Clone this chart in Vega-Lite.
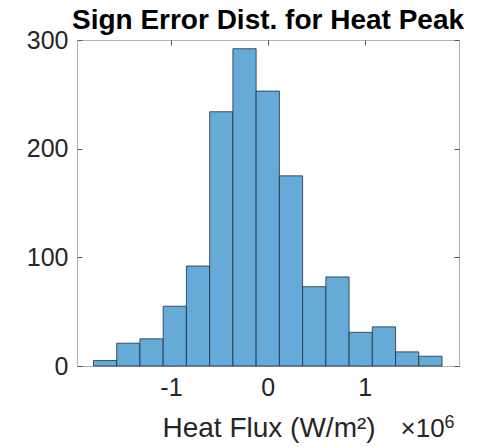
{
  "$schema": "https://vega.github.io/schema/vega-lite/v6.json",
  "autosize": {"type": "none"},
  "padding": {"left": 77, "top": 40, "right": 38, "bottom": 81},
  "width": 382,
  "height": 326,
  "background": "white",
  "title": {
    "text": "Sign Error Dist. for Heat Peak",
    "font": "Liberation Sans",
    "fontSize": 28,
    "fontWeight": "bold",
    "color": "#000000",
    "anchor": "middle",
    "offset": -7
  },
  "config": {
    "view": {"stroke": "#b0b0b0", "strokeWidth": 1},
    "axis": {
      "grid": false,
      "domain": false,
      "tickColor": "#555555",
      "tickSize": -5,
      "tickWidth": 1,
      "labelFont": "Liberation Sans",
      "labelFontSize": 25,
      "labelColor": "#262626",
      "titleFont": "Liberation Sans",
      "titleFontSize": 28,
      "titleFontWeight": "normal",
      "titleColor": "#262626"
    }
  },
  "data": {
    "values": [
      {"lo": -1800000, "hi": -1560000, "count": 5},
      {"lo": -1560000, "hi": -1320000, "count": 21},
      {"lo": -1320000, "hi": -1080000, "count": 25},
      {"lo": -1080000, "hi": -840000, "count": 55},
      {"lo": -840000, "hi": -600000, "count": 92},
      {"lo": -600000, "hi": -360000, "count": 234},
      {"lo": -360000, "hi": -120000, "count": 292},
      {"lo": -120000, "hi": 120000, "count": 253},
      {"lo": 120000, "hi": 360000, "count": 175},
      {"lo": 360000, "hi": 600000, "count": 73},
      {"lo": 600000, "hi": 840000, "count": 82},
      {"lo": 840000, "hi": 1080000, "count": 31},
      {"lo": 1080000, "hi": 1320000, "count": 36},
      {"lo": 1320000, "hi": 1560000, "count": 13},
      {"lo": 1560000, "hi": 1800000, "count": 9}
    ]
  },
  "resolve": {"axis": {"x": "independent", "y": "independent"}},
  "layer": [
    {
      "mark": {"type": "bar", "color": "#66AAD7", "stroke": "#1f2f3f", "strokeWidth": 0.8},
      "encoding": {
        "x": {
          "field": "lo",
          "type": "quantitative",
          "scale": {"domain": [-1970000, 1975000], "nice": false, "zero": false},
          "axis": {
            "orient": "bottom",
            "values": [-1000000, 0, 1000000],
            "labelExpr": "(datum.value / 1000000) + ''",
            "labelPadding": 14,
            "title": "Heat Flux (W/m²)",
            "titleAnchor": "start",
            "titleAlign": "left",
            "titleBaseline": "alphabetic",
            "titleX": 85,
            "titleY": 70
          }
        },
        "x2": {"field": "hi"},
        "y": {
          "field": "count",
          "type": "quantitative",
          "scale": {"domain": [0, 300], "nice": false},
          "axis": {
            "orient": "left",
            "values": [0, 100, 200, 300],
            "labelPadding": 14,
            "title": null
          }
        },
        "y2": {"datum": 0}
      }
    },
    {
      "mark": {"type": "point", "opacity": 0},
      "encoding": {
        "x": {
          "field": "lo",
          "type": "quantitative",
          "scale": {"domain": [-1970000, 1975000], "nice": false, "zero": false},
          "axis": {"orient": "top", "values": [-1000000, 0, 1000000], "labels": false, "title": null}
        },
        "y": {
          "field": "count",
          "type": "quantitative",
          "scale": {"domain": [0, 300], "nice": false},
          "axis": {"orient": "right", "values": [0, 100, 200, 300], "labels": false, "title": null}
        }
      }
    },
    {
      "mark": {"type": "point", "opacity": 0},
      "encoding": {
        "x": {
          "field": "lo",
          "type": "quantitative",
          "scale": {"domain": [-1970000, 1975000], "nice": false, "zero": false},
          "axis": {
            "orient": "bottom",
            "ticks": false,
            "labels": false,
            "title": "×10",
            "titleFontSize": 26,
            "titleAnchor": "start",
            "titleAlign": "left",
            "titleBaseline": "alphabetic",
            "titleX": 323,
            "titleY": 70
          }
        },
        "y": {"field": "count", "type": "quantitative", "scale": {"domain": [0, 300], "nice": false}, "axis": null}
      }
    },
    {
      "mark": {"type": "point", "opacity": 0},
      "encoding": {
        "x": {
          "field": "lo",
          "type": "quantitative",
          "scale": {"domain": [-1970000, 1975000], "nice": false, "zero": false},
          "axis": {
            "orient": "bottom",
            "ticks": false,
            "labels": false,
            "title": "6",
            "titleFontSize": 18,
            "titleAnchor": "start",
            "titleAlign": "left",
            "titleBaseline": "alphabetic",
            "titleX": 367,
            "titleY": 61
          }
        },
        "y": {"field": "count", "type": "quantitative", "scale": {"domain": [0, 300], "nice": false}, "axis": null}
      }
    }
  ]
}
